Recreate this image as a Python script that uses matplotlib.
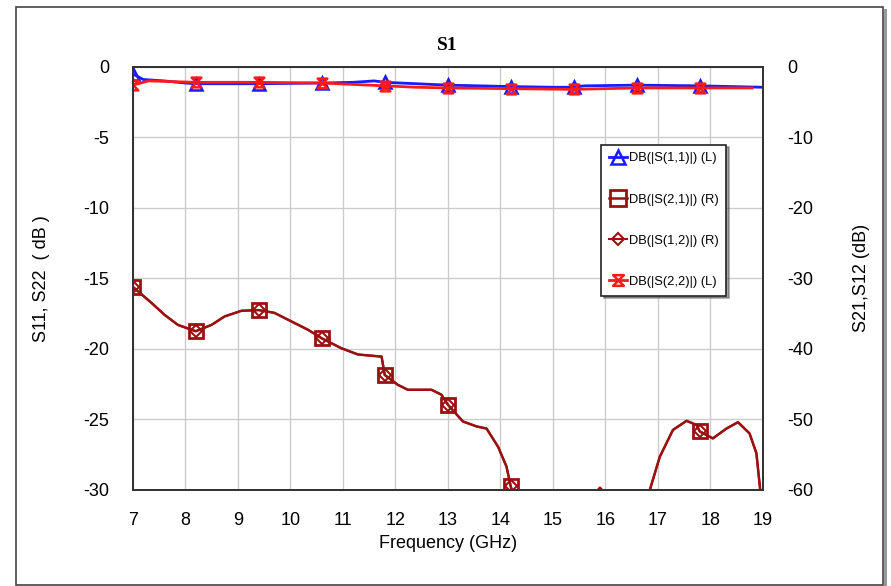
import numpy as np
import matplotlib
matplotlib.use("Agg")
import matplotlib.pyplot as plt
from matplotlib.path import Path
from matplotlib.patches import Rectangle

# frequency of the marker points (GHz)
mk_freq = [7.0, 8.2, 9.4, 10.6, 11.8, 13.0, 14.2, 15.4, 16.6, 17.8]

# S11 (left axis, dB)
s11_f = [7.0, 7.2, 7.6, 8.0, 8.2, 9.4, 10.6, 11.2, 11.6, 11.8, 12.4, 13.0,
         14.2, 15.0, 15.4, 15.6, 16.6, 17.8, 19.0]
s11_db = [-0.5, -0.9, -1.0, -1.15, -1.2, -1.2, -1.15, -1.1, -1.0, -1.1, -1.2, -1.3,
          -1.4, -1.45, -1.45, -1.35, -1.3, -1.35, -1.45]

# S22 (left axis, dB)
s22_f = [7.0, 7.3, 8.2, 9.4, 10.6, 11.8, 12.4, 13.0, 14.2, 15.4, 16.6, 17.8, 18.8]
s22_db = [-1.3, -1.0, -1.1, -1.1, -1.15, -1.35, -1.45, -1.5, -1.55, -1.6, -1.5, -1.5, -1.5]

# S21 / S12 (right axis, dB)
s21_f = [7.0, 7.36, 7.61, 7.86, 8.2, 8.5, 8.75, 9.07, 9.4, 9.7, 10.02, 10.34, 10.6,
         10.97, 11.29, 11.74, 11.8, 12.05, 12.24, 12.69, 12.88, 13.0, 13.29, 13.55,
         13.74, 13.96, 14.12, 14.2, 14.4, 15.0, 15.4, 15.75, 15.9, 16.05, 16.6, 16.85,
         17.04, 17.29, 17.55, 17.74, 17.8, 18.05, 18.31, 18.53, 18.75, 18.88, 18.95, 19.0]
s21_db = [-31.2, -33.5, -35.2, -36.6, -37.5, -36.6, -35.4, -34.6, -34.5, -34.9, -36.1, -37.3, -38.5,
          -39.9, -40.8, -41.1, -43.7, -45.1, -45.8, -45.8, -46.5, -47.9, -50.3, -51.0,
          -51.3, -53.9, -56.7, -59.5, -64.0, -68.0, -66.0, -61.0, -59.7, -61.0, -66.0, -60.0,
          -55.3, -51.5, -50.2, -50.8, -51.7, -52.7, -51.3, -50.4, -52.0, -54.8, -59.8, -63.0]
s12_f = s21_f
s12_db = s21_db

xticks = list(range(7, 20))
left_ticks = [0, -5, -10, -15, -20, -25, -30]
right_ticks = [0, -10, -20, -30, -40, -50, -60]

font = "Liberation Sans"
plt.rcParams["font.family"] = [font, "DejaVu Sans"]
plt.rcParams["axes.unicode_minus"] = False

blue = "#1a1aff"
red = "#ff1a1a"
brown = "#9b1010"

# hourglass marker like the simulator uses for S22
hourglass = Path([(-1, 1), (1, 1), (-1, -1), (1, -1), (-1, 1)],
                 [Path.MOVETO, Path.LINETO, Path.LINETO, Path.LINETO, Path.CLOSEPOLY])


def mk_idx(f):
    return [i for i, v in enumerate(f) if round(v, 2) in mk_freq]


fig = plt.figure(figsize=(8.91, 5.86), dpi=100)
ax = fig.add_axes([0.149, 0.164, 0.707, 0.722])
ax2 = ax.twinx()

l11, = ax.plot(s11_f, s11_db, color=blue, lw=2, marker="^", markersize=9,
               markerfacecolor="none", markeredgewidth=1.8, markevery=mk_idx(s11_f),
               label="DB(|S(1,1)|) (L)")
l22, = ax.plot(s22_f, s22_db, color=red, lw=2, marker=hourglass, markersize=7,
               markerfacecolor="none", markeredgewidth=1.8, markevery=mk_idx(s22_f),
               label="DB(|S(2,2)|) (L)")
l21, = ax2.plot(s21_f, s21_db, color=brown, lw=1.8, marker="s", markersize=10,
                markerfacecolor="none", markeredgewidth=2, markevery=mk_idx(s21_f),
                label="DB(|S(2,1)|) (R)")
l12, = ax2.plot(s12_f, s12_db, color=brown, lw=1.5, marker="D", markersize=6,
                markerfacecolor="none", markeredgewidth=1.5, markevery=mk_idx(s12_f),
                label="DB(|S(1,2)|) (R)")

ax.set_xlim(7, 19)
ax.set_ylim(-30, 0)
ax2.set_ylim(-60, 0)
ax.set_xticks(xticks)
ax.set_yticks(left_ticks)
ax2.set_yticks(right_ticks)
ax.grid(True, color="#cccccc", lw=1)
ax.set_axisbelow(True)

ax.tick_params(axis="both", length=0, labelsize=13, pad=17)
ax.tick_params(axis="x", pad=16)
ax2.tick_params(axis="y", length=0, labelsize=13, pad=18)
for a in (ax, ax2):
    for s in a.spines.values():
        s.set_color("#333333")
        s.set_linewidth(1.3)

ax.set_xlabel("Frequency (GHz)", fontsize=13, labelpad=4)
ax.set_ylabel("S11, S22  ( dB )", fontsize=13, labelpad=24)
ax2.set_ylabel("S21,S12 (dB)", fontsize=13, labelpad=28, rotation=90)
ax.set_title("S1", fontsize=14, fontweight="bold", family="Liberation Serif", pad=12)

leg = ax2.legend(handles=[l11, l21, l12, l22], loc="upper left",
                 bbox_to_anchor=(0.744, 0.816), fontsize=9.3, labelspacing=2.25,
                 handlelength=1.4, handletextpad=0.1, borderpad=0.6, borderaxespad=0,
                 markerscale=1.1, fancybox=False, shadow=True, framealpha=1,
                 edgecolor="#222222")
leg.get_frame().set_linewidth(1.2)

# outer frame of the exported plot window
fig.patches.append(Rectangle((0.018, 0.002), 0.973, 0.986, transform=fig.transFigure,
                             fill=False, edgecolor="#444444", lw=1.2))
fig.patches.append(Rectangle((0.992, 0.0), 0.004, 0.985, transform=fig.transFigure,
                             facecolor="#999999", edgecolor="none"))

fig.savefig("out.png", dpi=100)
